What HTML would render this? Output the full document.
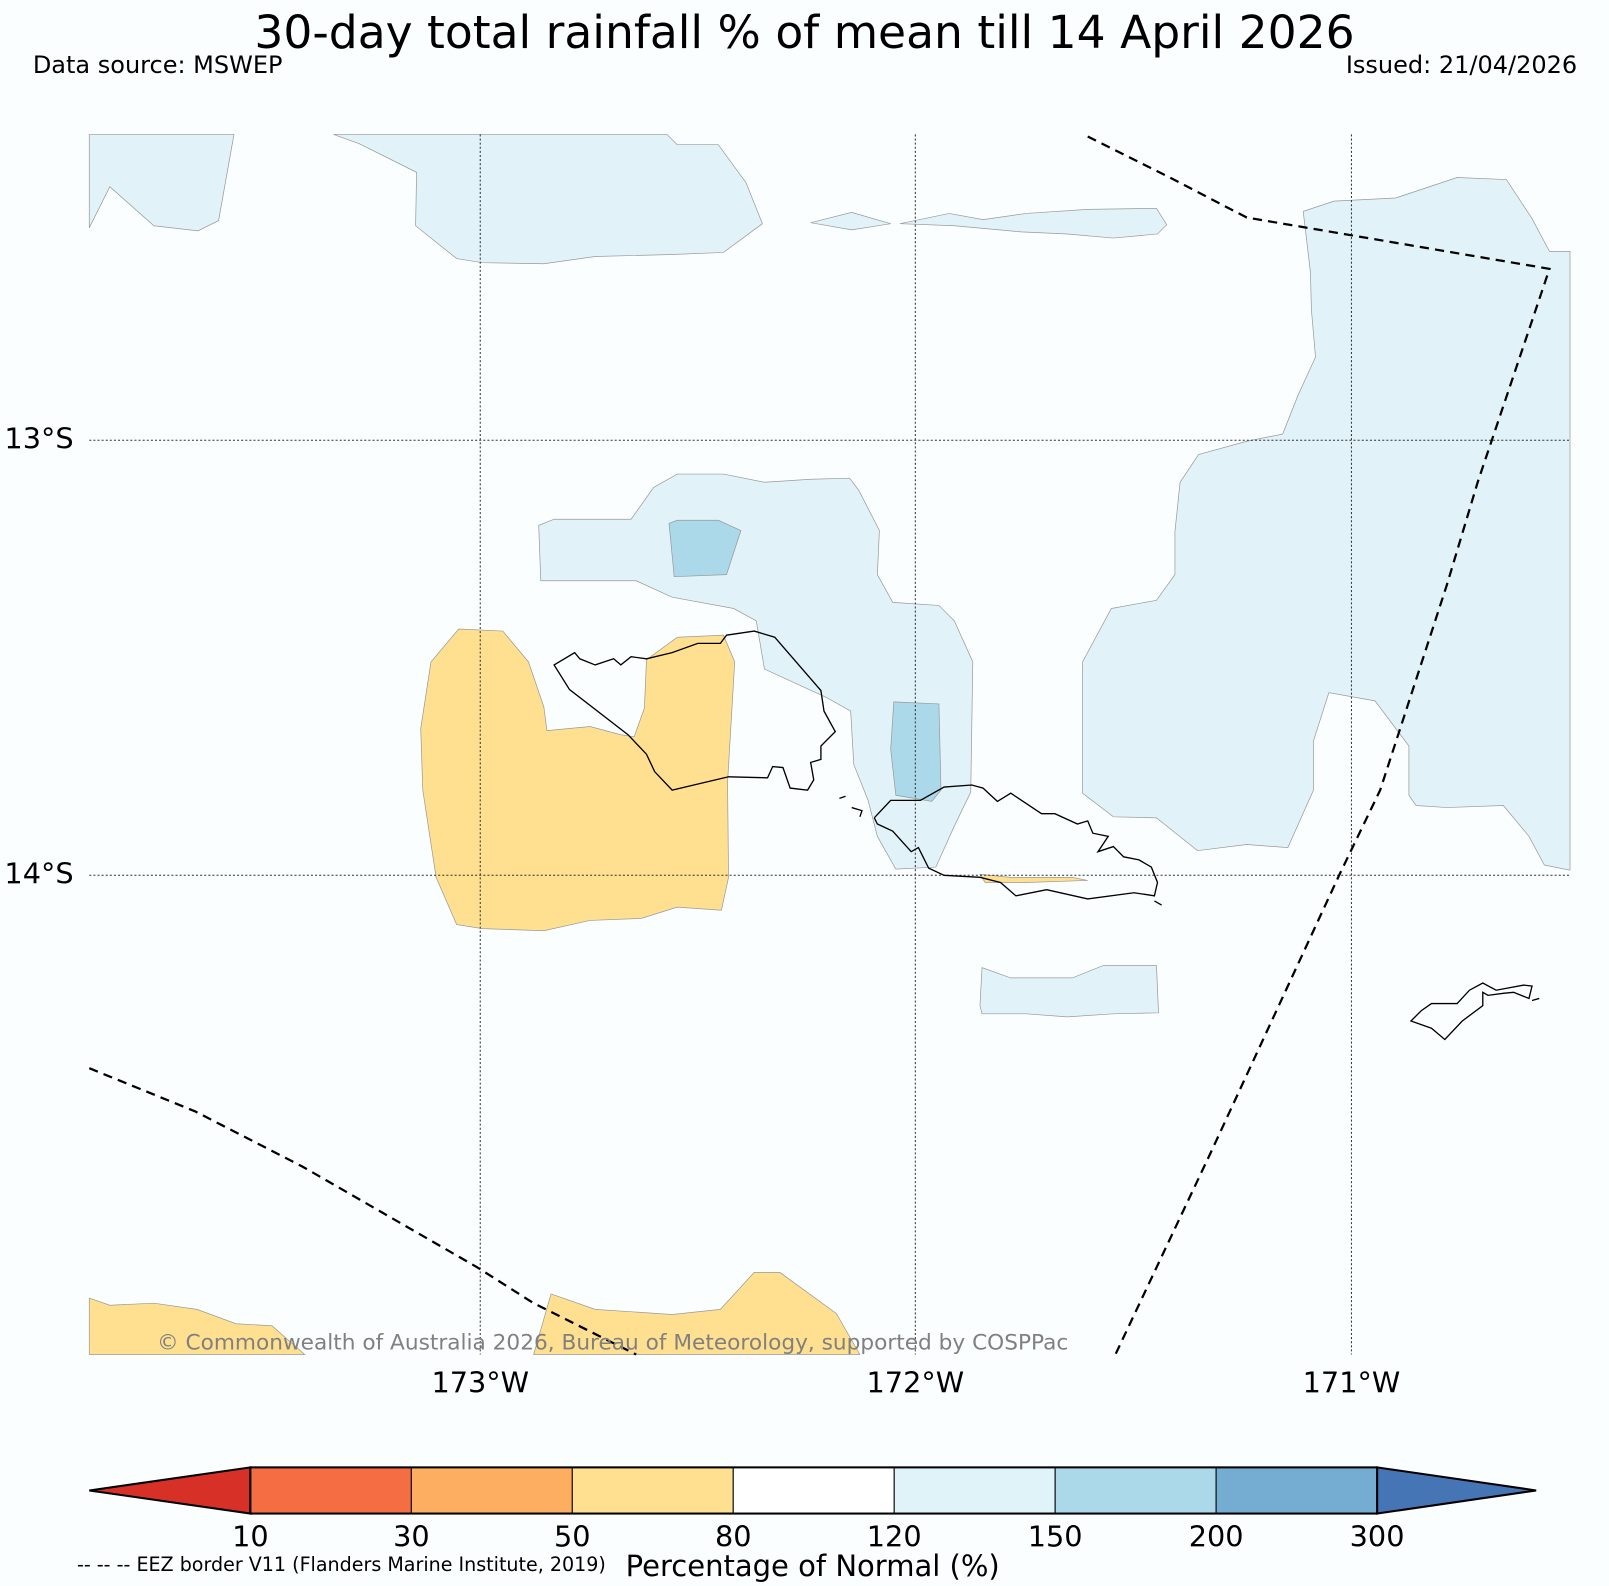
<!DOCTYPE html>
<html><head><meta charset="utf-8"><style>
html,body{margin:0;padding:0;background:#fbfeff;}
svg{display:block;font-family:"DejaVu Sans","Liberation Sans",sans-serif;}
</style></head><body>
<svg id="chart" width="1609" height="1586" viewBox="0 0 1568 1545.6" preserveAspectRatio="none" xmlns="http://www.w3.org/2000/svg">
<rect width="1568" height="1546" fill="#fbfeff"/>
<text x="784" y="47" font-size="44.4" text-anchor="middle">30-day total rainfall % of mean till 14 April 2026</text>
<text x="32" y="71" font-size="23.4">Data source: MSWEP</text>
<text x="1537" y="71" font-size="23.4" text-anchor="end">Issued: 21/04/2026</text>
<g>
<g fill="#e1f3f8" stroke="#999" stroke-width="0.7">
<polygon points="87,131 228,131 213,215 193,225 150,220 107,182 87,222"/>
<polygon points="325,131 650,131 660,141 700,141 727,178 743,218 705,246 655,248 580,250 530,257 470,256 445,252 405,220 406,168 350,140"/>
<polygon points="790,217 830,207 868,218 830,224"/>
<polygon points="877,218 925,208 958,214 1000,208 1060,204 1127,203 1137,219 1128,228 1085,232 1040,228 995,226 930,220"/>
<polygon points="1270,206 1300,196 1360,193 1420,173 1468,175 1493,213 1510,245 1530,245 1530,848 1505,843 1490,815 1465,785 1410,787 1380,785 1373,775 1373,727 1340,683 1295,675 1280,722 1280,770 1255,826 1215,823 1167,829 1127,797 1085,796 1055,773 1055,645 1083,593 1127,585 1145,560 1145,518 1150,470 1168,443 1215,430 1250,423 1265,385 1282,348 1278,302 1277,265"/>
<polygon points="525,512 540,506 615,506 637,475 660,462 705,462 745,470 790,467 828,466 837,478 857,517 855,560 870,587 915,590 930,605 948,645 946,772 930,805 912,845 873,847 855,815 846,780 832,745 829,693 806,680 745,652 737,605 715,593 655,582 620,566 527,566"/>
<polygon points="957,943 985,953 1045,953 1075,941 1127,941 1129,987 1085,988 1040,991 1000,988 957,988 955,980"/>
</g>
<g fill="#abd9e9" stroke="#999" stroke-width="0.7">
<polygon points="652,510 660,507 700,507 722,517 708,560 657,562"/>
<polygon points="871,684 915,686 917,770 908,781 873,775 868,730"/>
</g>
<g fill="#fee090" stroke="#999" stroke-width="0.7">
<polygon points="447,613 490,615 515,645 530,689 533,712 575,708 605,716 618,718 628,690 630,643 660,621 705,619 716,645 709,763 710,855 703,887 660,884 625,895 575,897 530,907 470,905 445,901 425,855 412,770 410,710 420,645"/>
<polygon points="955,852 985,855 1045,855 1060,858 1000,860 960,860"/>
<polygon points="87,1265 107,1272 150,1270 192,1276 230,1290 265,1292 297,1320 87,1320"/>
<polygon points="537,1261 580,1276 655,1281 702,1276 735,1240 760,1240 815,1280 838,1320 520,1320"/>
</g>
<g stroke="#333" stroke-width="1" stroke-dasharray="2,2">
<line x1="468" y1="131" x2="468" y2="1320"/><line x1="892" y1="131" x2="892" y2="1320"/><line x1="1317" y1="131" x2="1317" y2="1320"/>
<line x1="87" y1="429" x2="1530" y2="429"/><line x1="87" y1="853" x2="1530" y2="853"/>
</g>
<g fill="none" stroke="#000" stroke-width="1.3">
<polygon points="540,648 560,636 565,642 580,648 598,642 605,648 615,640 630,642 655,636 680,627 702,627 708,619 735,615 755,621 800,673 803,693 814,713 800,727 800,740 790,743 793,760 787,770 770,768 763,748 753,747 748,758 710,757 655,770 638,752 630,735 612,716 555,672"/>
<polyline points="852,797 868,780 897,780 920,767 947,765 958,768 972,781 985,773 1015,793 1028,793 1050,803 1060,800 1065,812 1080,815 1070,830 1085,825 1095,835 1110,838 1122,845 1128,860 1125,873 1105,870 1060,876 1020,867 990,873 975,860 955,855 920,853 905,846 895,826 888,830 870,810 855,803 852,797"/>
<polyline points="830,787 840,790 838,796"/><line x1="818" y1="778" x2="824" y2="776"/><line x1="1125" y1="878" x2="1132" y2="882"/>
<polygon points="1375,995 1385,985 1395,978 1420,978 1432,965 1445,958 1458,965 1485,960 1493,961 1490,973 1475,967 1465,968 1450,970 1445,967 1445,980 1425,995 1408,1013 1395,1002"/>
<line x1="1493" y1="975" x2="1500" y2="973"/>
</g>
<g fill="none" stroke="#000" stroke-width="2.2" stroke-dasharray="9,6">
<polyline points="1060,133 1140,173 1215,212 1510,262 1440,470 1410,570 1345,770 1305,853 1180,1123 1087,1320"/>
<polyline points="87,1041 190,1083 295,1137 465,1235 520,1270 620,1320"/>
</g>
<text x="597" y="1315" font-size="21.1" fill="#808080" text-anchor="middle">© Commonwealth of Australia 2026, Bureau of Meteorology, supported by COSPPac</text>
</g>
<g font-size="28">
<text x="468" y="1357" text-anchor="middle">173°W</text>
<text x="892" y="1357" text-anchor="middle">172°W</text>
<text x="1317" y="1357" text-anchor="middle">171°W</text>
<text x="38" y="437" text-anchor="middle">13°S</text>
<text x="38" y="861" text-anchor="middle">14°S</text>
</g>
<g id="cbar"></g>
<text x="75" y="1531" font-size="18.6">-- -- -- EEZ border V11 (Flanders Marine Institute, 2019)</text>
<text x="792" y="1536" font-size="28.3" text-anchor="middle">Percentage of Normal (%)</text>
<script>
const tickLabels=["10","30","50","80","120","150","200","300"];
const binColors=["#f46d43","#fdae61","#fee090","#ffffff","#e0f3f8","#abd9e9","#74add1"];
const underColor="#d73027", overColor="#4575b4";
const cbarG=document.getElementById('cbar');
const NS="http://www.w3.org/2000/svg";
const cbX0=244,cbX1=1342,yTop=1430,yBot=1475,tipL=87,tipR=1497;
const binW=(cbX1-cbX0)/(tickLabels.length-1);
function xs(i){return cbX0+i*binW;}
function mk(tag,attrs){const e=document.createElementNS(NS,tag);for(const k in attrs)e.setAttribute(k,attrs[k]);cbarG.appendChild(e);return e;}
let el=mk('polygon',{points:`${tipL},${(yTop+yBot)/2} ${cbX0},${yTop} ${cbX0},${yBot}`,fill:underColor,stroke:'#000','stroke-width':2});


el=mk('polygon',{points:`${tipR},${(yTop+yBot)/2} ${cbX1},${yTop} ${cbX1},${yBot}`,fill:overColor,stroke:'#000','stroke-width':2});


binColors.forEach((c,i)=>{
 const r=mk('rect',{x:xs(i),y:yTop,width:binW,height:yBot-yTop,fill:c,stroke:'#000','stroke-width':1});
 
 
});
mk('rect',{x:cbX0,y:yTop,width:cbX1-cbX0,height:yBot-yTop,fill:'none',stroke:'#000','stroke-width':2});
tickLabels.forEach((t,i)=>{
 const tx=mk('text',{x:xs(i),y:1507,'font-size':28,'text-anchor':'middle'});
 tx.textContent=t;
 
 
});
</script>
</svg>
</body></html>
